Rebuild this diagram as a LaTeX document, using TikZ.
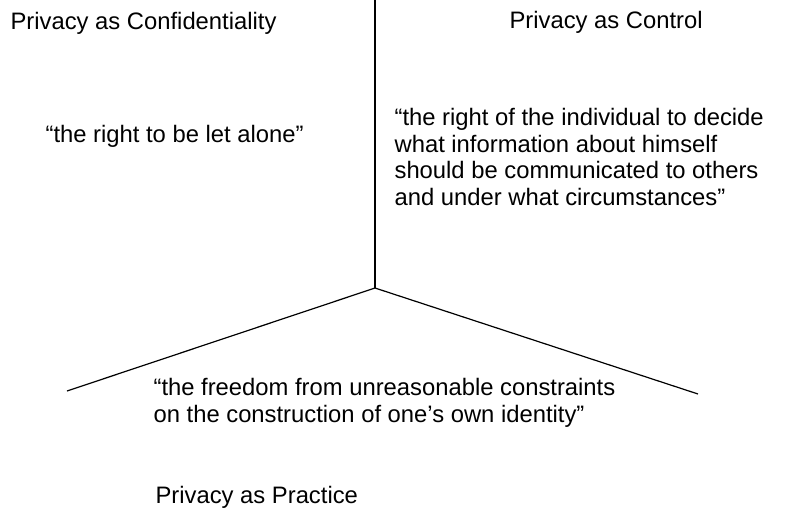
\documentclass[tikz,border=0pt]{standalone}
\usepackage{fontspec}
\setmainfont{Liberation Sans}

\begin{document}
\begin{tikzpicture}[x=1pt,y=-1pt,line width=1.2pt,
  label/.style={inner sep=0pt,anchor=base west,align=left,
    font=\fontsize{23.8}{26.4}\selectfont}]
\useasboundingbox (0,0) rectangle (798,514);

% axes
\coordinate (centre) at (375,288);
\coordinate (top) at (375,0);
\coordinate (left) at (67,391);
\coordinate (right) at (698,394);
\draw (centre) -- (top);
\draw (centre) -- (left);
\draw (centre) -- (right);

% headings
\node [label] (confidentiality) at (10,29) {Privacy as Confidentiality};
\node [label] (control) at (509,28) {Privacy as Control};
\node [label] (practice) at (155,503) {Privacy as Practice};

% definitions (base = last line)
\node [label] (alone) at (45,142) {“the right to be let alone”};
\node [label] (decide) at (394,205) {“the right of the individual to decide\\what information about himself\\should be communicated to others\\and under what circumstances”};
\node [label] (identity) at (153,422) {“the freedom from unreasonable constraints\\on the construction of one’s own identity”};
\end{tikzpicture}
\end{document}
